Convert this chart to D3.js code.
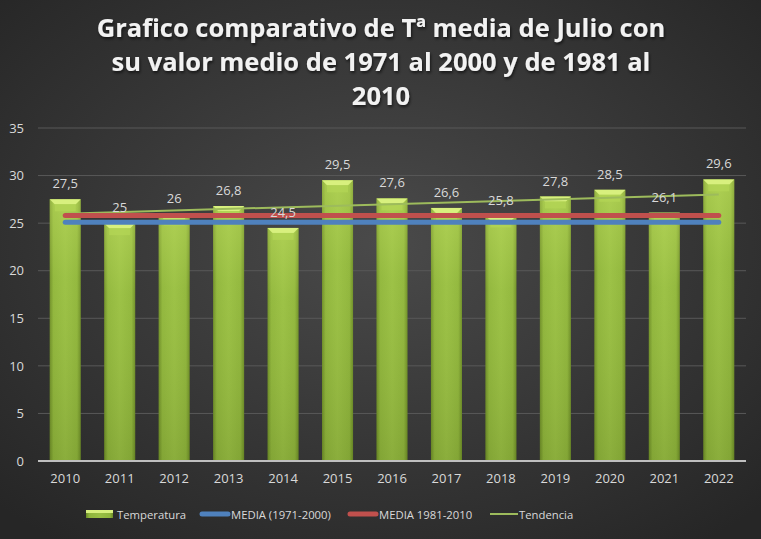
<!DOCTYPE html>
<html>
<head>
<meta charset="utf-8">
<script src="https://cdn.jsdelivr.net/npm/d3@7"></script>
<style>
  html, body { margin: 0; padding: 0; background: #2b2b2b; }
  svg text { font-family: "Open Sans", "Liberation Sans", sans-serif; }
</style>
</head>
<body>
<div id="chart"></div>
<script>
// values
let years = ["2010", "2011", "2012", "2013", "2014", "2015", "2016", "2017", "2018", "2019", "2020", "2021", "2022"];
let temperatura = [27.5, 25, 26, 26.8, 24.5, 29.5, 27.6, 26.6, 25.8, 27.8, 28.5, 26.1, 29.6];
let media7100 = 25.1;
let media8110 = 25.8;
let tendencia = [26.0, 28.0];   // first / last year of the trend line
let yTicks = [0, 5, 10, 15, 20, 25, 30, 35];
let titleLines = ["Grafico comparativo de Tª media de Julio con", "su valor medio de 1971 al 2000 y de 1981 al", "2010"];
let legendItems = ["Temperatura", "MEDIA (1971-2000)", "MEDIA 1981-2010", "Tendencia"];

let width = 761, height = 539;
let margin = {top: 128, right: 15, bottom: 78, left: 38};

let svg = d3.select("#chart").append("svg")
    .attr("width", width)
    .attr("height", height);

let defs = svg.append("defs");

let bg = defs.append("radialGradient").attr("id", "bg")
    .attr("cx", "50%").attr("cy", "45%").attr("r", "70%");
bg.append("stop").attr("offset", "0%").attr("stop-color", "#4a4a4a");
bg.append("stop").attr("offset", "100%").attr("stop-color", "#262626");

let barGrad = defs.append("linearGradient").attr("id", "barGrad")
    .attr("x1", "0").attr("x2", "1").attr("y1", "0").attr("y2", "0");
barGrad.append("stop").attr("offset", "0%").attr("stop-color", "#6c8c27");
barGrad.append("stop").attr("offset", "12%").attr("stop-color", "#8fb53c");
barGrad.append("stop").attr("offset", "50%").attr("stop-color", "#99bf44");
barGrad.append("stop").attr("offset", "88%").attr("stop-color", "#8fb53c");
barGrad.append("stop").attr("offset", "100%").attr("stop-color", "#6c8c27");

let barShade = defs.append("linearGradient").attr("id", "barShade")
    .attr("x1", "0").attr("x2", "0").attr("y1", "0").attr("y2", "1");
barShade.append("stop").attr("offset", "0%").attr("stop-color", "#cde86a").attr("stop-opacity", 0.4);
barShade.append("stop").attr("offset", "30%").attr("stop-color", "#cde86a").attr("stop-opacity", 0.08);
barShade.append("stop").attr("offset", "100%").attr("stop-color", "#3a4a10").attr("stop-opacity", 0.15);

let shadow = defs.append("filter").attr("id", "shadow")
    .attr("x", "-10%").attr("y", "-20%").attr("width", "120%").attr("height", "150%");
shadow.append("feDropShadow").attr("dx", 1).attr("dy", 2).attr("stdDeviation", 1.5)
    .attr("flood-color", "#000").attr("flood-opacity", 0.6);

svg.append("rect").attr("width", width).attr("height", height).attr("fill", "url(#bg)");

// title
svg.append("g").attr("filter", "url(#shadow)")
    .selectAll("text").data(titleLines).join("text")
    .attr("x", 381)
    .attr("y", (d, i) => 37 + i * 34)
    .attr("text-anchor", "middle")
    .attr("fill", "#f2f2f2")
    .attr("font-size", 25.5)
    .attr("font-weight", "bold")
    .text(d => d);

let x = d3.scaleBand()
    .domain(years)
    .range([margin.left, width - margin.right])
    .paddingInner(0.43)
    .paddingOuter(0.215);

let y = d3.scaleLinear()
    .domain([0, 35])
    .range([height - margin.bottom, margin.top]);

// grid
svg.append("g")
    .selectAll("line").data(yTicks.filter(d => d > 0)).join("line")
    .attr("x1", margin.left).attr("x2", width - margin.right)
    .attr("y1", d => y(d)).attr("y2", d => y(d))
    .attr("stroke", "#595959").attr("stroke-width", 1);

// y axis labels
let yAxis = svg.append("g")
    .attr("transform", "translate(" + (margin.left - 14) + ",0)")
    .call(d3.axisLeft(y).tickValues(yTicks).tickSize(0).tickPadding(0));
yAxis.select(".domain").remove();
yAxis.selectAll("text").attr("fill", "#d9d9d9").attr("font-size", 13)
    .style("font-family", "'Open Sans', sans-serif");

// bars
let bars = svg.append("g").selectAll("g").data(temperatura).join("g");
bars.append("rect")
    .attr("x", (d, i) => x(years[i]))
    .attr("y", d => y(d))
    .attr("width", x.bandwidth())
    .attr("height", d => y(0) - y(d))
    .attr("fill", "url(#barGrad)");
bars.append("rect")
    .attr("x", (d, i) => x(years[i]))
    .attr("y", d => y(d))
    .attr("width", x.bandwidth())
    .attr("height", d => y(0) - y(d))
    .attr("fill", "url(#barShade)");
// bevelled top
bars.append("path")
    .attr("d", (d, i) => {
        let x0 = x(years[i]), x1 = x0 + x.bandwidth(), t = y(d), b = 5;
        return "M" + x0 + "," + t + "L" + x1 + "," + t + "L" + (x1 - b) + "," + (t + b) +
            "L" + (x0 + b) + "," + (t + b) + "Z";
    })
    .attr("fill", "#d8f07e");
bars.append("path")
    .attr("d", (d, i) => {
        let x0 = x(years[i]), x1 = x0 + x.bandwidth(), t = y(d), b = 5;
        return "M" + (x0 + b) + "," + (t + b) + "L" + (x1 - b) + "," + (t + b) +
            "L" + (x1 - b) + "," + (t + b + 7) + "L" + (x0 + b) + "," + (t + b + 7) + "Z";
    })
    .attr("fill", "#b4d655").attr("opacity", 0.7);

// x axis line
svg.append("line")
    .attr("x1", margin.left).attr("x2", width - margin.right)
    .attr("y1", y(0)).attr("y2", y(0))
    .attr("stroke", "#bfbfbf").attr("stroke-width", 2);

let xAxis = svg.append("g")
    .attr("transform", "translate(0," + (y(0) + 13) + ")")
    .call(d3.axisBottom(x).tickSize(0).tickPadding(0));
xAxis.select(".domain").remove();
xAxis.selectAll("text").attr("fill", "#d9d9d9").attr("font-size", 13)
    .style("font-family", "'Open Sans', sans-serif");

let cx = d => x(d) + x.bandwidth() / 2;
let first = years[0], last = years[years.length - 1];

// trend
svg.append("line")
    .attr("x1", cx(first)).attr("x2", cx(last))
    .attr("y1", y(tendencia[0])).attr("y2", y(tendencia[1]))
    .attr("stroke", "#9dbb5c").attr("stroke-width", 2);

// media lines
svg.append("line")
    .attr("x1", cx(first)).attr("x2", cx(last))
    .attr("y1", y(media8110)).attr("y2", y(media8110))
    .attr("stroke", "#c0504d").attr("stroke-width", 5).attr("stroke-linecap", "round");
svg.append("line")
    .attr("x1", cx(first)).attr("x2", cx(last))
    .attr("y1", y(media7100)).attr("y2", y(media7100))
    .attr("stroke", "#4f81bd").attr("stroke-width", 5).attr("stroke-linecap", "round");

// data labels
svg.append("g").selectAll("text").data(temperatura).join("text")
    .attr("x", (d, i) => cx(years[i]))
    .attr("y", d => y(d) - 11)
    .attr("text-anchor", "middle")
    .attr("fill", "#d9d9d9")
    .attr("font-size", 13)
    .text(d => String(d).replace(".", ","));

// legend
let legendX = [86, 200, 348, 490];
let legend = svg.append("g").attr("transform", "translate(0,514)");
legend.append("rect").attr("x", legendX[0]).attr("y", -4).attr("width", 27).attr("height", 8)
    .attr("fill", "url(#barGrad)");
legend.append("rect").attr("x", legendX[0]).attr("y", -4).attr("width", 27).attr("height", 3)
    .attr("fill", "#d8f07e");
legend.append("line").attr("x1", legendX[1] + 2).attr("x2", legendX[1] + 28)
    .attr("stroke", "#4f81bd").attr("stroke-width", 5).attr("stroke-linecap", "round");
legend.append("line").attr("x1", legendX[2] + 2).attr("x2", legendX[2] + 28)
    .attr("stroke", "#c0504d").attr("stroke-width", 5).attr("stroke-linecap", "round");
legend.append("line").attr("x1", legendX[3]).attr("x2", legendX[3] + 28)
    .attr("stroke", "#9dbb5c").attr("stroke-width", 2);
legend.selectAll("text").data(legendItems).join("text")
    .attr("x", (d, i) => legendX[i] + (i === 3 ? 29 : 31))
    .attr("y", 5)
    .attr("fill", "#d9d9d9")
    .attr("font-size", 11.3)
    .text(d => d);
</script>
</body>
</html>
